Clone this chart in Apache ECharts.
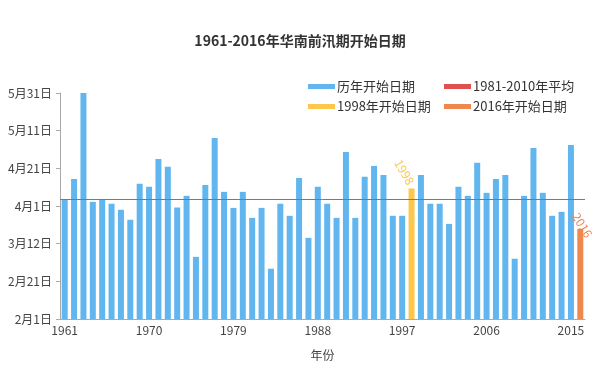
<!DOCTYPE html>
<html><head><meta charset="utf-8">
<script src="https://cdn.jsdelivr.net/npm/echarts@6/dist/echarts.min.js"></script>
<style>html,body{margin:0;padding:0;background:#fff}#c{width:600px;height:387px}</style>
</head><body><div id="c"></div>
<script>
// days after Feb 1 (axis: 0 = 2月1日, 120 = 5月31日)
const years = [];
for (let y = 1961; y <= 2016; y++) years.push(String(y));
const onsetDays = [63.6,74.4,120,62.2,63.6,61.2,58.0,52.7,71.8,70.2,85.0,80.8,59.2,65.4,33.0,
  71.2,96.1,67.5,59.0,67.5,53.7,59.0,26.7,61.2,54.8,74.9,43.1,70.2,61.2,53.7,88.7,53.7,75.5,81.3,76.5,54.8,
  54.8,69.3,76.5,61.2,61.2,50.5,70.2,65.4,82.9,67.0,74.4,76.5,32.0,65.4,90.8,67.0,54.8,56.9,92.4,47.9];
const avg8110 = 63.6;
const yTickLabels = ['2月1日','2月21日','3月12日','4月1日','4月21日','5月11日','5月31日'];

const blue = onsetDays.map((v,i)=> (years[i]==='1998'||years[i]==='2016') ? null : v);
const y1998 = onsetDays.map((v,i)=> years[i]==='1998' ? v : null);
const y2016 = onsetDays.map((v,i)=> years[i]==='2016' ? v : null);

const FONT = '"Noto Sans CJK SC", "Noto Sans", sans-serif';
const chart = echarts.init(document.getElementById('c'));
function lg(name, left, top){
  return {data:[name], left:left, top:top, icon:'rect', itemWidth:27, itemHeight:5, itemGap:4,
    textStyle:{fontSize:13, color:'#333', fontFamily:FONT, padding:[0,0,0,-3]}};
}
chart.setOption({
  animation:false,
  textStyle:{fontFamily:FONT},
  title:{text:'1961-2016年华南前汛期开始日期', left:'center', top:29,
    textStyle:{fontSize:14, fontWeight:'bold', color:'#333', fontFamily:FONT}},
  legend:[lg('历年开始日期',303,75), lg('1981-2010年平均',439,75),
          lg('1998年开始日期',303,95), lg('2016年开始日期',439,95)],
  grid:{left:60, right:15, top:93, bottom:68},
  xAxis:{type:'category', data:years, name:'年份', nameLocation:'middle', nameGap:30,
    nameTextStyle:{fontSize:12, color:'#444'},
    axisLine:{lineStyle:{color:'#aaa'}}, axisTick:{show:false},
    axisLabel:{interval:8, color:'#444', fontSize:12, margin:5}},
  yAxis:{type:'value', min:0, max:120, interval:20,
    axisLine:{show:true, lineStyle:{color:'#aaa'}}, axisTick:{show:true, length:4, lineStyle:{color:'#aaa'}},
    splitLine:{show:false},
    axisLabel:{color:'#444', fontSize:12, margin:8, formatter:v=>yTickLabels[Math.round(v/20)]}},
  series:[
    {name:'历年开始日期', type:'bar', stack:'s', data:blue, barCategoryGap:'36%',
      itemStyle:{color:'#62b6ef'}},
    {name:'1981-2010年平均', type:'line', data:[], itemStyle:{color:'#e0504c'},
      markLine:{silent:true, symbol:'none', label:{show:false},
        lineStyle:{color:'#c85a52', width:1, type:'solid'}, data:[{yAxis:avg8110}]}},
    {name:'1998年开始日期', type:'bar', stack:'s', data:y1998, itemStyle:{color:'#fdc64c'},
      label:{show:true, position:'top', rotate:-60, distance:4, align:'right', verticalAlign:'middle',
        offset:[-1,0], formatter:'1998', color:'#fdc64c', fontSize:12}},
    {name:'2016年开始日期', type:'bar', stack:'s', data:y2016, itemStyle:{color:'#f0874f'},
      label:{show:true, position:'top', rotate:-58, distance:7, align:'center', verticalAlign:'middle',
        offset:[4,0], formatter:'2016', color:'#f0874f', fontSize:12}}
  ]
});
</script></body></html>
